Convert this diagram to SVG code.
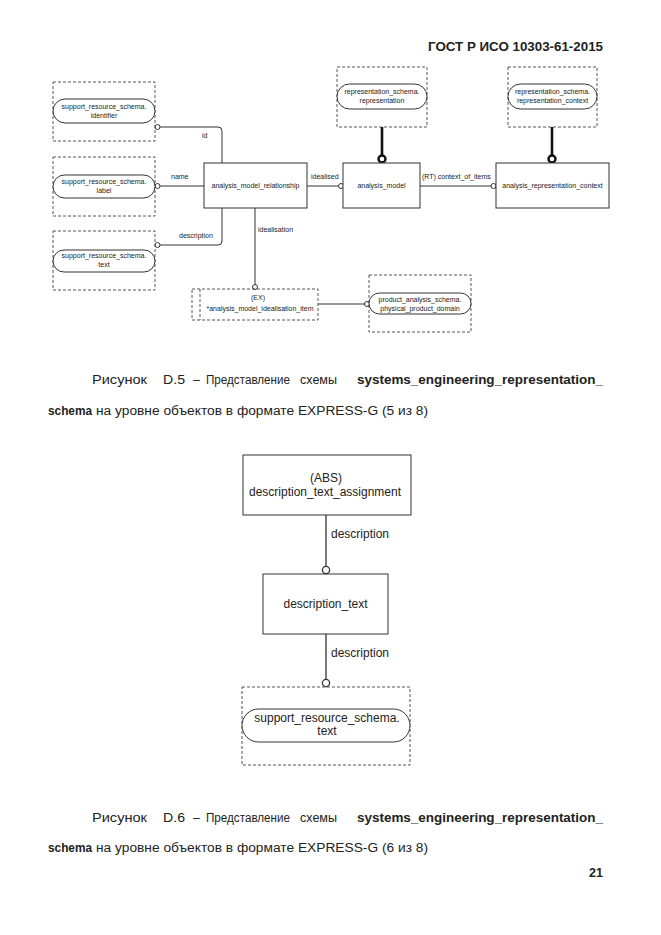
<svg xmlns="http://www.w3.org/2000/svg" width="661" height="935" viewBox="0 0 661 935">
<style>
text{font-family:"Liberation Sans",Arial,sans-serif;fill:#222}
.s{font-size:7px}
.m{font-size:12px}
.c{font-size:12.5px}
.b{font-weight:bold}
.box{fill:#fff;stroke:#333;stroke-width:1}
.dash{fill:none;stroke:#444;stroke-width:0.9;stroke-dasharray:3,2}
.pill{fill:#fff;stroke:#333;stroke-width:1}
.ln{fill:none;stroke:#333;stroke-width:1}
.thick{fill:none;stroke:#111;stroke-width:2.6}
.oc{fill:#fff;stroke:#333;stroke-width:1}
.ocb{fill:#fff;stroke:#111;stroke-width:2.4}
.ocm{fill:#fff;stroke:#333;stroke-width:1.3}
.lnm{fill:none;stroke:#333;stroke-width:1.3}
</style>
<rect width="661" height="935" fill="#fff"/>
<text x="603" y="51" class="c b" text-anchor="end" textLength="175" lengthAdjust="spacingAndGlyphs">ГОСТ Р ИСО 10303-61-2015</text>

<g id="connectors">
  <path class="ln" d="M160,127 H218 Q222,127 222,131 V163"/>
  <path class="ln" d="M160,186 H204"/>
  <path class="ln" d="M160,245 H218 Q222,245 222,241 V208"/>
  <path class="ln" d="M307,186 H339"/>
  <path class="ln" d="M420,186 H491"/>
  <path class="ln" d="M255,208 V285"/>
  <path class="ln" d="M318,304 H365"/>
  <path class="thick" d="M382,127 V156"/>
  <path class="thick" d="M552,127 V156"/>
  <circle class="oc" cx="157.5" cy="127" r="2.5"/>
  <circle class="oc" cx="157.5" cy="186" r="2.5"/>
  <circle class="oc" cx="157.5" cy="245" r="2.5"/>
  <circle class="oc" cx="341" cy="186" r="2.5"/>
  <circle class="oc" cx="493.5" cy="186" r="2.5"/>
  <circle class="oc" cx="255" cy="287" r="2.5"/>
  <circle class="oc" cx="367" cy="304" r="2.5"/>
  <circle class="ocb" cx="382" cy="159" r="3.5"/>
  <circle class="ocb" cx="552" cy="159" r="3.5"/>
  <text x="202" y="138" class="s">id</text>
  <text x="171" y="179" class="s">name</text>
  <text x="179" y="238" class="s">description</text>
  <text x="311" y="179" class="s">idealised</text>
  <text x="258" y="232" class="s">idealisation</text>
  <text x="422" y="179" class="s">(RT) context_of_items</text>
  <path class="lnm" d="M326,515 V566"/>
  <path class="lnm" d="M326,634 V679"/>
  <circle class="ocm" cx="326" cy="570" r="3.6"/>
  <circle class="ocm" cx="326" cy="683" r="3.6"/>
  <text x="331" y="538" class="m">description</text>
  <text x="331" y="657" class="m">description</text>
</g>

<g id="sr_identifier">
  <rect class="dash" x="53" y="82" width="102" height="59"/>
  <rect class="pill" x="53" y="99" width="102" height="24" rx="12"/>
  <text x="104" y="109" class="s" text-anchor="middle">support_resource_schema.</text>
  <text x="104" y="118" class="s" text-anchor="middle">identifier</text>
</g>
<g id="sr_label">
  <rect class="dash" x="53" y="157" width="102" height="59"/>
  <rect class="pill" x="53" y="175" width="102" height="23" rx="11.5"/>
  <text x="104" y="184" class="s" text-anchor="middle">support_resource_schema.</text>
  <text x="104" y="193" class="s" text-anchor="middle">label</text>
</g>
<g id="sr_text">
  <rect class="dash" x="53" y="231" width="102" height="59"/>
  <rect class="pill" x="53" y="250" width="102" height="22" rx="11"/>
  <text x="104" y="258" class="s" text-anchor="middle">support_resource_schema.</text>
  <text x="104" y="267" class="s" text-anchor="middle">text</text>
</g>
<g id="analysis_model_relationship">
  <rect class="box" x="204" y="163" width="103" height="45"/>
  <text x="255.5" y="188" class="s" text-anchor="middle">analysis_model_relationship</text>
</g>
<g id="analysis_model">
  <rect class="box" x="343" y="163" width="77" height="45"/>
  <text x="381.5" y="188" class="s" text-anchor="middle">analysis_model</text>
</g>
<g id="analysis_representation_context">
  <rect class="box" x="496" y="163" width="113" height="45"/>
  <text x="552.5" y="188" class="s" text-anchor="middle">analysis_representation_context</text>
</g>
<g id="rs_representation">
  <rect class="dash" x="337" y="67" width="90" height="60"/>
  <rect class="pill" x="337" y="84" width="90" height="25" rx="12.5"/>
  <text x="382" y="94" class="s" text-anchor="middle">representation_schema.</text>
  <text x="382" y="103" class="s" text-anchor="middle">representation</text>
</g>
<g id="rs_representation_context">
  <rect class="dash" x="508" y="67" width="89" height="60"/>
  <rect class="pill" x="508" y="84" width="89" height="25" rx="12.5"/>
  <text x="552.5" y="94" class="s" text-anchor="middle">representation_schema.</text>
  <text x="552.5" y="103" class="s" text-anchor="middle">representation_context</text>
</g>
<g id="analysis_model_idealisation_item">
  <rect class="dash" x="192" y="289" width="126" height="31"/>
  <line class="dash" x1="200" y1="289" x2="200" y2="320"/>
  <text x="258" y="300" class="s" text-anchor="middle">(EX)</text>
  <text x="260" y="311" class="s" text-anchor="middle">*analysis_model_idealisation_item</text>
</g>
<g id="pas_physical_product_domain">
  <rect class="dash" x="369" y="275" width="102" height="57"/>
  <rect class="pill" x="369" y="293" width="102" height="21" rx="10.5"/>
  <text x="420" y="302" class="s" text-anchor="middle">product_analysis_schema.</text>
  <text x="420" y="311" class="s" text-anchor="middle">physical_product_domain</text>
</g>

<g id="caption1">
  <text x="92" y="384" class="c" textLength="55" lengthAdjust="spacingAndGlyphs">Рисунок</text>
  <text x="163" y="384" class="c" textLength="22" lengthAdjust="spacingAndGlyphs">D.5</text>
  <text x="193" y="384" class="c">–</text>
  <text x="206" y="384" class="c" textLength="84" lengthAdjust="spacingAndGlyphs">Представление</text>
  <text x="300" y="384" class="c" textLength="37" lengthAdjust="spacingAndGlyphs">схемы</text>
  <text x="357" y="384" class="c b" textLength="246" lengthAdjust="spacingAndGlyphs">systems_engineering_representation_</text>
  <text x="48" y="415" class="c b" textLength="44" lengthAdjust="spacingAndGlyphs">schema</text>
  <text x="96" y="415" class="c" textLength="332" lengthAdjust="spacingAndGlyphs">на уровне объектов в формате EXPRESS-G (5 из 8)</text>
</g>

<g id="description_text_assignment">
  <rect class="box" x="243" y="455" width="168" height="60"/>
  <text x="326" y="482" class="m" text-anchor="middle">(ABS)</text>
  <text x="325" y="496" class="m" text-anchor="middle">description_text_assignment</text>
</g>
<g id="description_text">
  <rect class="box" x="263" y="574" width="125" height="60"/>
  <text x="325.5" y="608" class="m" text-anchor="middle">description_text</text>
</g>
<g id="sr_text_2">
  <rect class="dash" x="242" y="687" width="168" height="78"/>
  <rect class="pill" x="242" y="709" width="168" height="33" rx="16.5"/>
  <text x="327" y="722" class="m" text-anchor="middle">support_resource_schema.</text>
  <text x="327" y="735" class="m" text-anchor="middle">text</text>
</g>

<g id="caption2">
  <text x="92" y="822" class="c" textLength="55" lengthAdjust="spacingAndGlyphs">Рисунок</text>
  <text x="163" y="822" class="c" textLength="22" lengthAdjust="spacingAndGlyphs">D.6</text>
  <text x="193" y="822" class="c">–</text>
  <text x="206" y="822" class="c" textLength="84" lengthAdjust="spacingAndGlyphs">Представление</text>
  <text x="300" y="822" class="c" textLength="37" lengthAdjust="spacingAndGlyphs">схемы</text>
  <text x="357" y="822" class="c b" textLength="246" lengthAdjust="spacingAndGlyphs">systems_engineering_representation_</text>
  <text x="48" y="852" class="c b" textLength="44" lengthAdjust="spacingAndGlyphs">schema</text>
  <text x="96" y="852" class="c" textLength="332" lengthAdjust="spacingAndGlyphs">на уровне объектов в формате EXPRESS-G (6 из 8)</text>
</g>
<text x="603" y="877" class="c b" text-anchor="end">21</text>
</svg>
